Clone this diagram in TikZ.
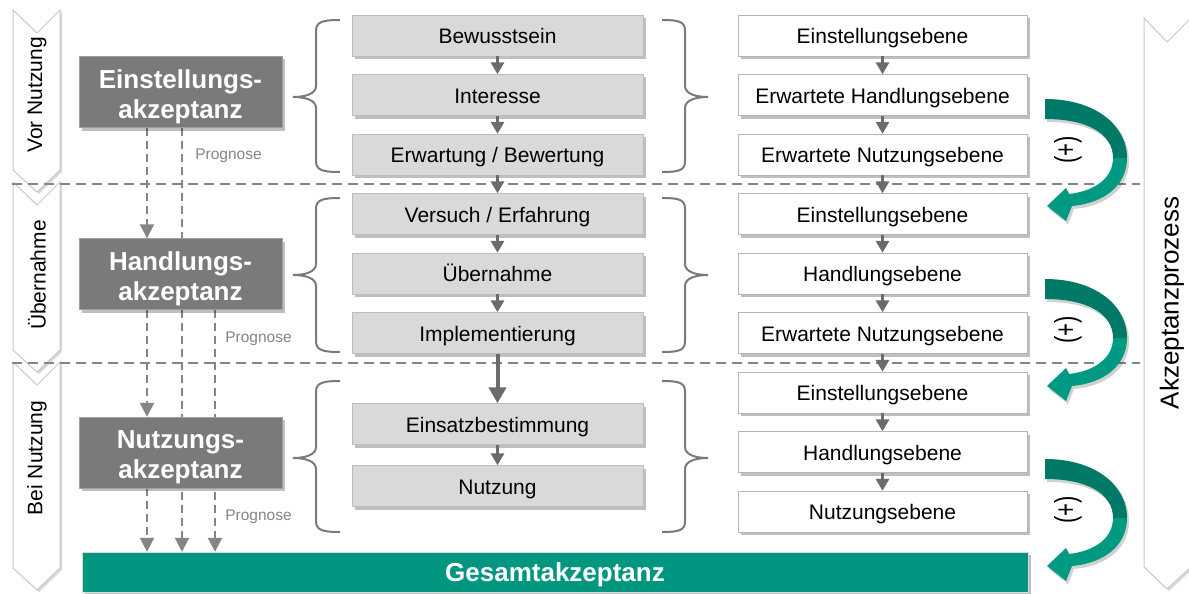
\documentclass[tikz,border=0pt]{standalone}
\usepackage{fontspec}
\setmainfont{Liberation Sans}
\usetikzlibrary{arrows.meta,shadows,backgrounds}

\definecolor{darkfill}{HTML}{7A7A7A}
\definecolor{darkline}{HTML}{A0A0A0}
\definecolor{midfill}{HTML}{D9D9D9}
\definecolor{midline}{HTML}{BDBDBD}
\definecolor{whiteline}{HTML}{B5B5B5}
\definecolor{arrowgray}{HTML}{6B6B6B}
\definecolor{dashgray}{HTML}{858585}
\definecolor{teal}{RGB}{0,150,128}
\definecolor{tealdark}{RGB}{0,122,102}
\definecolor{teallight}{RGB}{0,154,130}
\definecolor{chevline}{HTML}{C8C8C8}

\begin{document}
\begin{tikzpicture}[x=1pt,y=-1pt,
  softshadow/.style={drop shadow={shadow xshift=3pt,shadow yshift=-3pt,fill=black,opacity=0.25}},
  accbox/.style={draw=darkline,fill=darkfill,minimum width=203pt,minimum height=71pt,inner sep=0pt,
    align=center,text=white,font=\bfseries\fontsize{26}{30}\selectfont,
    text height=52pt,text depth=0pt,softshadow},
  midbox/.style={draw=midline,fill=midfill,minimum width=291pt,minimum height=41pt,inner sep=0pt,
    font=\fontsize{21}{24}\selectfont,text height=16pt,text depth=0pt,softshadow},
  levelbox/.style={draw=whiteline,fill=white,minimum width=289pt,minimum height=41pt,inner sep=0pt,
    font=\fontsize{21}{24}\selectfont,text height=16pt,text depth=0pt,softshadow},
  phaselabel/.style={rotate=90,font=\fontsize{21}{24}\selectfont,inner sep=0pt},
  chev/.style={draw=chevline,fill=white,line width=1pt,
    drop shadow={shadow xshift=2pt,shadow yshift=-2pt,fill=black,opacity=0.15}},
  stepline/.style={draw=arrowgray,line width=3pt,-{Triangle[length=12pt,width=13pt]}},
  bigstep/.style={draw=arrowgray,line width=4pt,-{Triangle[length=16pt,width=17pt]}},
  progline/.style={draw=dashgray,line width=2pt,dash pattern=on 8pt off 5pt,
    -{Triangle[length=14pt,width=14pt]}},
  separator/.style={draw=dashgray,line width=2pt,dash pattern=on 10pt off 6pt},
  curly/.style={draw=arrowgray!90,line width=2pt},
  proglabel/.style={text=dashgray,font=\fontsize{15.5}{18}\selectfont,inner sep=0pt},
  plus/.style={rotate=90,font=\fontsize{22}{24}\selectfont,inner sep=0pt}
]
\useasboundingbox (0,0) rectangle (1189,594);

\begin{scope}[on background layer]
  \fill[white] (0,0) rectangle (1189,594);
  % phase chevrons on the left
  \foreach \t/\b in {10/170, 182/350, 362/568}
    \path[chev] (13,\t) -- (37,\t+23) -- (60,\t) -- (60,\b) -- (37,\b+22) -- (13,\b) -- cycle;
  % process chevron on the right
  \path[chev] (1144,18) -- (1167,42) -- (1191,18) -- (1191,567) -- (1167,589) -- (1144,567) -- cycle;
  % phase separators
  \draw[separator] (12,184) -- (1140,184);
  \draw[separator] (12,363) -- (1140,363);
\end{scope}

% phase names
\node[phaselabel] (ph1) at (37,95) {Vor Nutzung};
\node[phaselabel] (ph2) at (37,275) {Übernahme};
\node[phaselabel] (ph3) at (37,458) {Bei Nutzung};
\node[rotate=90,font=\fontsize{26}{30}\selectfont,inner sep=0pt] (proc) at (1172,303) {Akzeptanzprozess};

% acceptance types
\node[accbox] (ea) at (180.5,92) {Einstellungs-\\akzeptanz};
\node[accbox] (ha) at (180.5,274) {Handlungs-\\akzeptanz};
\node[accbox] (na) at (180.5,452.5) {Nutzungs-\\akzeptanz};
\node[draw=black!15,fill=teal,minimum width=946pt,minimum height=40pt,inner sep=0pt,
  text=white,font=\bfseries\fontsize{26}{30}\selectfont,text height=18.6pt,text depth=0pt,
  softshadow] (ges) at (555,572) {Gesamtakzeptanz};

% forecast paths
\coordinate (cA) at (147,0);
\coordinate (cB) at (182,0);
\coordinate (cC) at (215,0);
\begin{scope}[on background layer]
  \draw[progline] (ea.south -| cA) -- (ha.north -| cA);
  \draw[progline] (ha.south -| cA) -- (na.north -| cA);
  \draw[progline] (na.south -| cA) -- (ges.north -| cA);
  \draw[progline] (ea.south -| cB) -- (ges.north -| cB);
  \draw[progline] (ha.south -| cC) -- (ges.north -| cC);
\end{scope}
\node[proglabel] (pg1) at (228.5,156) {Prognose};
\node[proglabel] (pg2) at (258.5,339) {Prognose};
\node[proglabel] (pg3) at (258.5,517) {Prognose};

% adoption steps
\node[midbox] (m1) at (497.5,35.5) {Bewusstsein};
\node[midbox] (m2) at (497.5,95) {Interesse};
\node[midbox] (m3) at (497.5,154.5) {Erwartung / Bewertung};
\node[midbox] (m4) at (497.5,214) {Versuch / Erfahrung};
\node[midbox] (m5) at (497.5,273.5) {Übernahme};
\node[midbox] (m6) at (497.5,333) {Implementierung};
\node[midbox] (m7) at (497.5,424) {Einsatzbestimmung};
\node[midbox] (m8) at (497.5,486) {Nutzung};
\foreach \a/\b in {m1/m2, m2/m3, m3/m4, m4/m5, m5/m6, m7/m8}
  \draw[stepline] (\a) -- (\b);
\draw[bigstep] (m6) -- (m7);

% acceptance levels
\foreach \n/\y/\txt in {1/35.5/Einstellungsebene, 2/95/Erwartete Handlungsebene,
    3/154.5/Erwartete Nutzungsebene, 4/214/Einstellungsebene, 5/273.5/Handlungsebene,
    6/333/Erwartete Nutzungsebene, 7/392.5/Einstellungsebene, 8/452/Handlungsebene,
    9/511.5/Nutzungsebene}
  \node[levelbox] (r\n) at (882.5,\y) {\txt};
\foreach \a/\b in {1/2, 2/3, 3/4, 4/5, 5/6, 6/7, 7/8, 8/9}
  \draw[stepline] (r\a) -- (r\b);

% braces grouping the steps
\foreach \t/\m/\b in {20/97/172, 198/275/352, 381/458/532} {
  \draw[curly] (340,\t) .. controls (322,\t) and (316,\t+2) .. (316,\t+11) -- (316,\m-11)
    .. controls (316,\m-3) and (305,\m) .. (293,\m) .. controls (305,\m) and (316,\m+3) .. (316,\m+11)
    -- (316,\b-11) .. controls (316,\b-2) and (322,\b) .. (340,\b);
  \draw[curly] (662,\t) .. controls (680,\t) and (685,\t+2) .. (685,\t+11) -- (685,\m-11)
    .. controls (685,\m-3) and (696,\m) .. (708,\m) .. controls (696,\m) and (685,\m+3) .. (685,\m+11)
    -- (685,\b-11) .. controls (685,\b-2) and (680,\b) .. (662,\b);
}

% feedback arrows between the levels
\foreach \dy in {0,180,360} {
  \begin{scope}[shift={(0,\dy)}]
    \fill[black,opacity=0.18,shift={(2,3)}]
      (1045,99) .. controls (1095,99) and (1127,125) .. (1127,158)
      .. controls (1127,185) and (1105,203) .. (1072,206) -- (1066,221) -- (1047,206) -- (1066,188) -- (1069,194)
      .. controls (1095,191) and (1113,178) .. (1113,158)
      .. controls (1113,134) and (1088,119) .. (1045,119) -- cycle;
    \fill[tealdark] (1045,99) .. controls (1095,99) and (1127,125) .. (1127,158)
      -- (1113,158) .. controls (1113,134) and (1088,119) .. (1045,119) -- cycle;
    \fill[teallight] (1127,158) .. controls (1127,185) and (1105,203) .. (1072,206)
      -- (1066,221) -- (1047,206) -- (1066,188) -- (1069,194)
      .. controls (1095,191) and (1113,178) .. (1113,158) -- cycle;
  \end{scope}
}
\node[plus] (p1) at (1068,150) {\scalebox{1}[1.35]{(+)}};
\node[plus] (p2) at (1068,330) {\scalebox{1}[1.35]{(+)}};
\node[plus] (p3) at (1068,510) {\scalebox{1}[1.35]{(+)}};

\end{tikzpicture}
\end{document}
